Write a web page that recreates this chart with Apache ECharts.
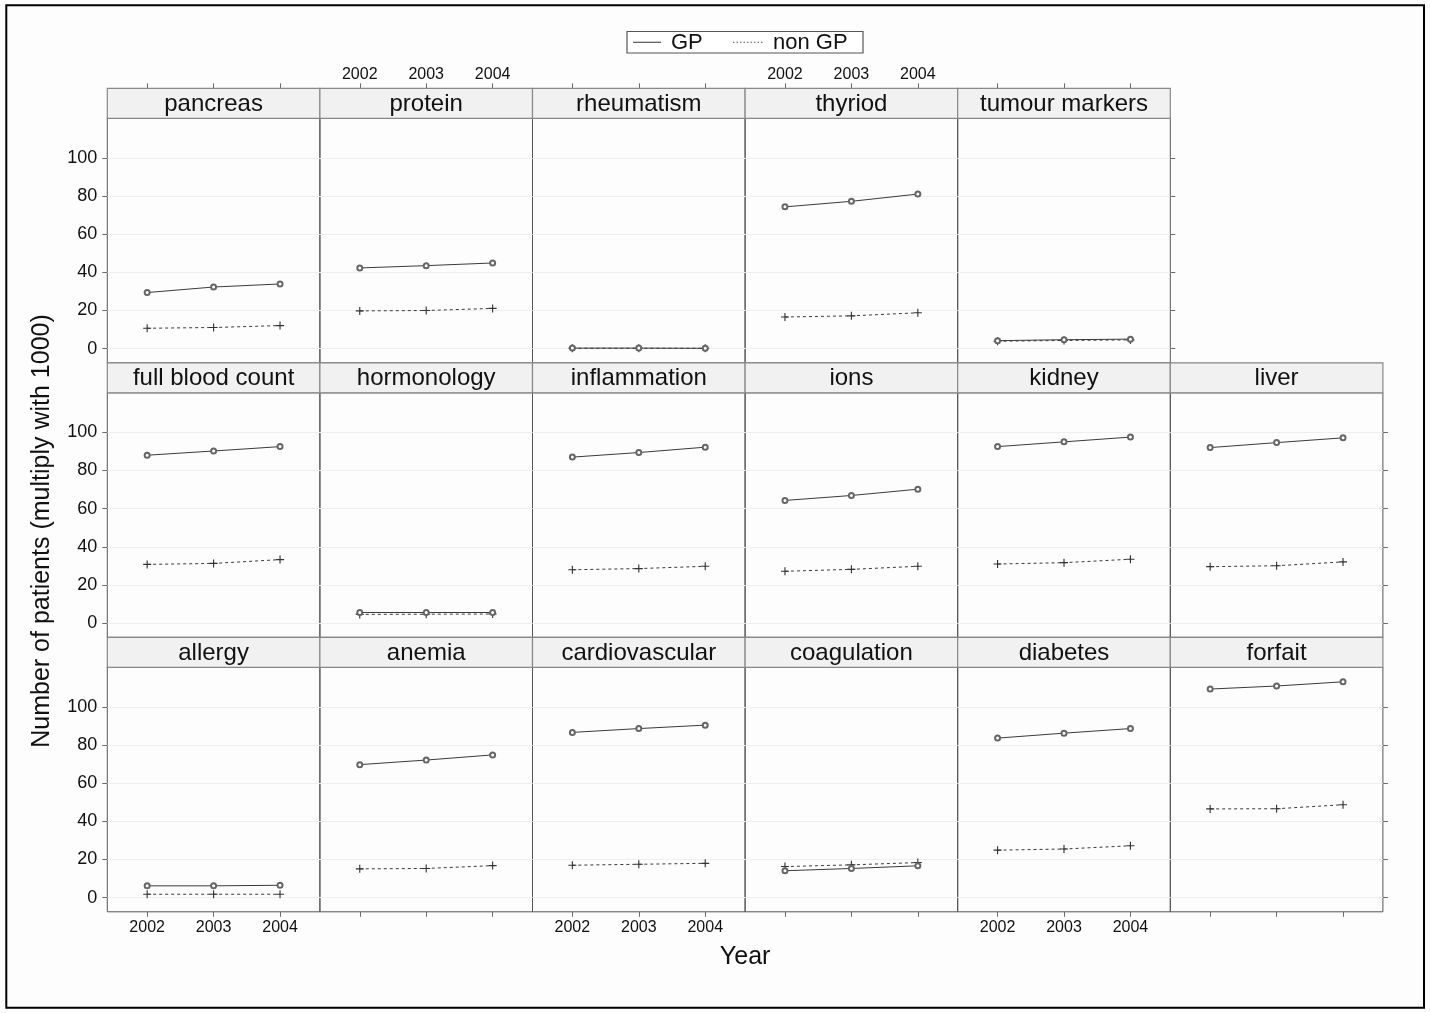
<!DOCTYPE html>
<html>
<head>
<meta charset="utf-8">
<script src="https://cdn.jsdelivr.net/npm/echarts@6/dist/echarts.min.js"></script>
<style>
  html, body { margin: 0; padding: 0; background: #fdfdfd; }
  #chart { width: 1430px; height: 1013px; }
</style>
</head>
<body>
<div id="chart"></div>
<script>
// Years on the x axis
const years = [2002, 2003, 2004];
const yTicks = [0, 20, 40, 60, 80, 100];

// Panels listed row by row, top row first (lattice layout 6 x 3)
const panelRows = [
  ['pancreas', 'protein', 'rheumatism', 'thyriod', 'tumour markers'],
  ['full blood count', 'hormonology', 'inflammation', 'ions', 'kidney', 'liver'],
  ['allergy', 'anemia', 'cardiovascular', 'coagulation', 'diabetes', 'forfait']
];

// Number of patients (x1000), GP
const gpValues = {
  'pancreas':         [29.4, 32.3, 33.9],
  'protein':          [42.3, 43.5, 44.9],
  'rheumatism':       [0.3, 0.3, 0.2],
  'thyriod':          [74.3, 77.2, 81.0],
  'tumour markers':   [4.2, 4.7, 5.0],
  'full blood count': [88.0, 90.2, 92.5],
  'hormonology':      [5.6, 5.6, 5.6],
  'inflammation':     [87.0, 89.4, 92.2],
  'ions':             [64.3, 66.9, 70.2],
  'kidney':           [92.5, 95.0, 97.5],
  'liver':            [92.0, 94.6, 97.1],
  'allergy':          [6.2, 6.2, 6.5],
  'anemia':           [69.7, 72.1, 74.8],
  'cardiovascular':   [86.6, 88.6, 90.4],
  'coagulation':      [14.1, 15.3, 16.7],
  'diabetes':         [83.6, 86.2, 88.6],
  'forfait':          [109.3, 110.9, 113.1]
};

// Number of patients (x1000), non GP
const nonGpValues = {
  'pancreas':         [10.7, 11.1, 12.1],
  'protein':          [19.8, 20.0, 21.1],
  'rheumatism':       [0.2, 0.2, 0.2],
  'thyriod':          [16.6, 17.2, 18.8],
  'tumour markers':   [3.9, 4.3, 4.6],
  'full blood count': [30.8, 31.3, 33.3],
  'hormonology':      [4.6, 4.7, 4.8],
  'inflammation':     [28.0, 28.6, 29.8],
  'ions':             [27.2, 28.2, 29.8],
  'kidney':           [31.0, 31.7, 33.5],
  'liver':            [29.6, 30.1, 32.1],
  'allergy':          [1.8, 1.8, 1.8],
  'anemia':           [15.1, 15.3, 16.8],
  'cardiovascular':   [17.0, 17.5, 18.0],
  'coagulation':      [16.3, 17.2, 18.4],
  'diabetes':         [24.9, 25.5, 27.2],
  'forfait':          [46.5, 46.6, 48.7]
};

// ---- layout ----
const FONT = '"Liberation Sans", Arial, Helvetica, sans-serif';
const left0 = 107.3, top0 = 88.3;
const colW = 212.6, rowH = 274.5, stripH = 30;
const panelH = rowH - stripH;
const xMin = 2001.4, xMax = 2004.6;
const yMin = -7.4, yMax = 120.7;

const plusPath = 'path://M0.43,0H0.57V0.43H1V0.57H0.57V1H0.43V0.57H0V0.43H0.43Z';

const grids = [], xAxes = [], yAxes = [], series = [], graphics = [];
const tickStyle = { show: true, length: 5, lineStyle: { color: '#6a6a6a', width: 1 } };

panelRows.forEach((row, r) => {
  row.forEach((name, c) => {
    const gi = grids.length;
    const gx = left0 + c * colW;
    const gy = top0 + r * rowH + stripH;
    grids.push({
      left: gx, top: gy, width: colW, height: panelH,
      show: true, borderColor: '#555', borderWidth: 1, backgroundColor: 'transparent'
    });

    // x axis: top row on top (above the strip), bottom row at the bottom
    const isTop = r === 0;
    const isBottom = r === panelRows.length - 1;
    let showXLabel = false;
    if (isTop) showXLabel = (c % 2 === 1);
    if (isBottom) showXLabel = (c % 2 === 0);
    xAxes.push({
      gridIndex: gi, type: 'value', min: xMin, max: xMax,
      position: isTop ? 'top' : 'bottom',
      offset: isTop ? stripH : 0,
      axisLine: { show: false, onZero: false },
      axisTick: Object.assign({}, tickStyle, { show: isTop || isBottom, customValues: years }),
      axisLabel: {
        show: showXLabel, customValues: years, formatter: v => String(v),
        fontFamily: FONT, fontSize: 16, color: '#111', margin: isTop ? 6 : 8
      },
      splitLine: { show: false }
    });

    // y axis on the left (labels on first column), ticks on the right of the last column
    const firstCol = c === 0;
    const lastCol = c === row.length - 1;
    const yMain = yAxes.length;
    yAxes.push({
      gridIndex: gi, type: 'value', min: yMin, max: yMax, position: 'left',
      axisLine: { show: false, onZero: false },
      axisTick: Object.assign({}, tickStyle, { show: firstCol, customValues: yTicks }),
      axisLabel: {
        show: firstCol, customValues: yTicks,
        fontFamily: FONT, fontSize: 18, color: '#111', margin: 10
      },
      splitLine: { show: true, lineStyle: { color: '#efefef', width: 1 } }
    });
    if (lastCol) {
      yAxes.push({
        gridIndex: gi, type: 'value', min: yMin, max: yMax, position: 'right',
        axisLine: { show: false, onZero: false },
        axisTick: Object.assign({}, tickStyle, { customValues: yTicks }),
        axisLabel: { show: false },
        splitLine: { show: false }
      });
    }

    series.push({
      name: 'GP', type: 'line', xAxisIndex: gi, yAxisIndex: yMain,
      data: years.map((y, k) => [y, gpValues[name][k]]),
      symbol: 'emptyCircle', symbolSize: 5,
      itemStyle: { color: '#666', borderWidth: 1 },
      lineStyle: { color: '#3a3a3a', width: 1 },
      z: 3
    });
    series.push({
      name: 'non GP', type: 'line', xAxisIndex: gi, yAxisIndex: yMain,
      data: years.map((y, k) => [y, nonGpValues[name][k]]),
      symbol: plusPath, symbolSize: 8,
      itemStyle: { color: '#333' },
      lineStyle: { color: '#3a3a3a', width: 1, type: [3, 3] },
      z: 2
    });

    // strip with panel title
    graphics.push({
      type: 'rect', z: 10,
      shape: { x: gx, y: gy - stripH, width: colW, height: stripH },
      style: { fill: '#f1f1f1', stroke: '#888', lineWidth: 1.2 }
    });
    graphics.push({
      type: 'text', z: 11,
      x: gx + colW / 2, y: gy - stripH / 2 + 1,
      style: {
        text: name, fill: '#111', font: '24px ' + FONT,
        textAlign: 'center', textVerticalAlign: 'middle'
      }
    });
  });
});

// legend box
const lgX = 627, lgY = 31.5, lgW = 236, lgH = 21.5;
graphics.push(
  { type: 'rect', z: 10, shape: { x: lgX, y: lgY, width: lgW, height: lgH },
    style: { fill: '#fff', stroke: '#555', lineWidth: 1.2 } },
  { type: 'line', z: 11, shape: { x1: lgX + 6, y1: lgY + lgH / 2, x2: lgX + 34, y2: lgY + lgH / 2 },
    style: { stroke: '#333', lineWidth: 1 } },
  { type: 'text', z: 11, x: lgX + 44, y: lgY + lgH / 2 + 1,
    style: { text: 'GP', fill: '#111', font: '22px ' + FONT, textVerticalAlign: 'middle' } },
  { type: 'line', z: 11, shape: { x1: lgX + 106, y1: lgY + lgH / 2, x2: lgX + 137, y2: lgY + lgH / 2 },
    style: { stroke: '#555', lineWidth: 1, lineDash: [1.5, 2] } },
  { type: 'text', z: 11, x: lgX + 146, y: lgY + lgH / 2 + 1,
    style: { text: 'non GP', fill: '#111', font: '22px ' + FONT, textVerticalAlign: 'middle' } }
);

// axis titles
graphics.push(
  { type: 'text', z: 11, x: left0 + colW * 3, y: 957,
    style: { text: 'Year', fill: '#111', font: '25px ' + FONT, textAlign: 'center', textVerticalAlign: 'middle' } },
  { type: 'text', z: 11, x: 42, y: 531, rotation: Math.PI / 2,
    style: { text: 'Number of patients (multiply with 1000)', fill: '#111', font: '25px ' + FONT,
             textAlign: 'center', textVerticalAlign: 'middle' } }
);

// outer frame
graphics.push({
  type: 'rect', z: 12, shape: { x: 6.3, y: 5.3, width: 1417.7, height: 1002.4 },
  style: { fill: 'none', stroke: '#000', lineWidth: 2 }
});

const chart = echarts.init(document.getElementById('chart'), null, { renderer: 'canvas' });
chart.setOption({
  animation: false,
  backgroundColor: '#fdfdfd',
  grid: grids,
  xAxis: xAxes,
  yAxis: yAxes,
  series: series,
  graphic: graphics
});
</script>
</body>
</html>
